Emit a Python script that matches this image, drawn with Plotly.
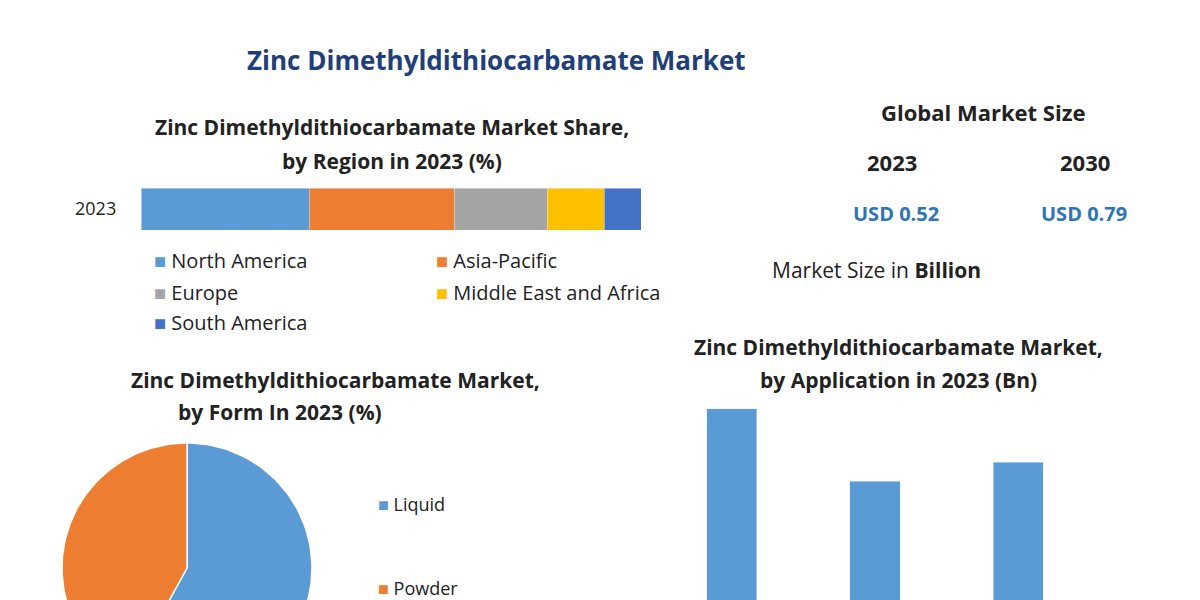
import numpy as np
import plotly.graph_objects as go

regions = ["North America", "Asia-Pacific", "Europe", "Middle East and Africa", "South America"]
region_share = [33.6, 29.0, 18.6, 11.4, 7.4]
region_colors = ["#5b9bd5", "#ed7d31", "#a5a5a5", "#ffc000", "#4472c4"]

forms = ["Liquid", "Powder"]
form_share = [58, 42]
form_colors = ["#5b9bd5", "#ed7d31"]

applications = ["A", "B", "C"]
app_values = [0.267, 0.202, 0.219]

W, H = 1200, 600
O = 8  # page offset compensation

def fx(x):
    return (x - O) / W

def fy(y):
    return 1 - (y - O) / H

fig = go.Figure()

for name, v, c in zip(regions, region_share, region_colors):
    fig.add_trace(go.Bar(x=[v], y=[0], orientation="h", marker_color=c, width=1,
                         name=name, xaxis="x", yaxis="y", showlegend=False))

fig.add_trace(go.Bar(x=applications, y=app_values, marker_color="#5b9bd5", width=0.35,
                     xaxis="x2", yaxis="y2", showlegend=False))

cx, cy, r = 187 - O, 568 - O, 125
start = 0.0
tot = sum(form_share)
for name, v, c in zip(forms, form_share, form_colors):
    a0 = np.pi / 2 - 2 * np.pi * start / tot
    a1 = np.pi / 2 - 2 * np.pi * (start + v) / tot
    t = np.linspace(a0, a1, 120)
    xs = np.concatenate([[cx], cx + r * np.cos(t), [cx]])
    ys = np.concatenate([[cy], cy - r * np.sin(t), [cy]])
    fig.add_trace(go.Scatter(x=xs, y=ys, fill="toself", fillcolor=c, mode="lines",
                             line=dict(color="white", width=1.5), xaxis="x3", yaxis="y3",
                             showlegend=False, hoverinfo="skip"))
    start += v

fig.update_layout(
    width=W, height=H, margin=dict(l=0, r=0, t=0, b=0),
    paper_bgcolor="white", plot_bgcolor="rgba(0,0,0,0)", barmode="stack",
    font=dict(family="Open Sans", color="#222"),
    xaxis=dict(domain=[fx(141), fx(641)], range=[0, 100], visible=False),
    yaxis=dict(domain=[fy(230), fy(188)], range=[-0.5, 0.5], visible=False),
    xaxis2=dict(domain=[fx(660), fx(1090)], visible=False),
    yaxis2=dict(domain=[0, fy(372)], range=[0.08 + O / 1000, 0.30], visible=False),
    xaxis3=dict(domain=[0, 1], range=[0, W], visible=False),
    yaxis3=dict(domain=[0, 1], range=[H, 0], visible=False),
    showlegend=False,
)

def px(x, y, text, size=18, color="#222", bold=True, xanchor="center"):
    t = f"<b>{text}</b>" if bold else text
    fig.add_annotation(x=fx(x), y=fy(y), xref="paper", yref="paper", text=t,
                       showarrow=False, xanchor=xanchor, yanchor="middle",
                       font=dict(size=size, color=color, family="Open Sans"))

px(496, 60, "Zinc Dimethyldithiocarbamate Market", 26, "#1f3f7a")
px(392, 127, "Zinc Dimethyldithiocarbamate Market Share,", 21)
px(392, 161, "by Region in 2023 (%)", 21)
px(95, 208, "2023", 18, bold=False)
leg_pos = [(152, 261), (434, 261), (152, 292), (434, 292), (152, 322)]
for (x, y), name, c in zip(leg_pos, regions, region_colors):
    px(x, y, f"<span style='color:{c}'>■</span> {name}", 20, bold=False, xanchor="left")

px(983, 112, "Global Market Size", 22)
px(892, 162, "2023", 22)
px(1085, 162, "2030", 22)
px(896, 213, "USD 0.52", 20, "#2e75b6")
px(1084, 213, "USD 0.79", 20, "#2e75b6")
fig.add_annotation(x=fx(983), y=fy(270), xref="paper", yref="paper", showarrow=False,
                   text="Market Size in <b>Billion</b>", font=dict(size=21, color="#222"))

px(335, 380, "Zinc Dimethyldithiocarbamate Market,", 21)
px(280, 412, "by Form In 2023 (%)", 21)
px(898, 347, "Zinc Dimethyldithiocarbamate Market,", 21)
px(898, 380, "by Application in 2023 (Bn)", 21)

for y, name, c in zip([504, 588], forms, form_colors):
    px(376, y, f"<span style='color:{c}'>■</span> {name}", 18, bold=False, xanchor="left")

fig.write_html("out.html")
